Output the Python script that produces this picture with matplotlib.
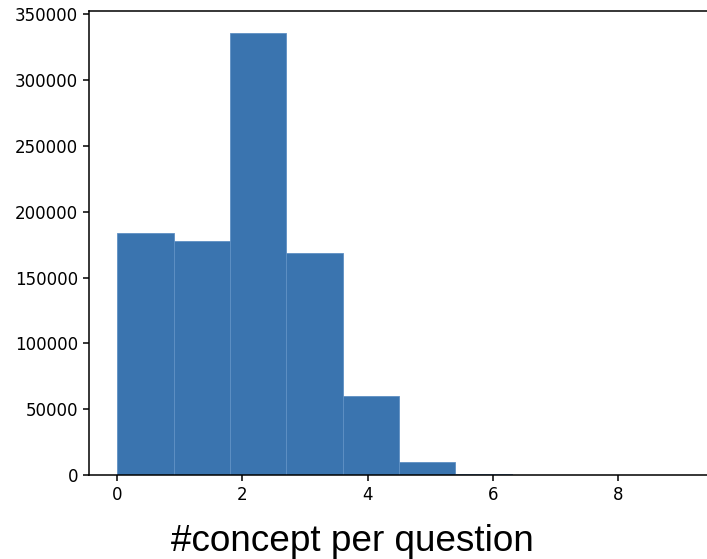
import matplotlib
matplotlib.use("Agg")
import matplotlib.pyplot as plt
import numpy as np

# number of concepts per question, and how many questions have that many
concepts = [0, 1, 2, 3, 4, 5, 6, 7, 8, 9]
counts = [184000, 178000, 335500, 169000, 60000, 10000, 1000, 200, 60, 20]

fig = plt.figure(figsize=(7.07, 5.59), dpi=100)
ax = fig.add_axes([0.1259, 0.150, 0.877, 0.830])

ax.hist(concepts, bins=10, weights=counts, color="#3a74af",
        edgecolor="#5f90c4", linewidth=0.6)

ax.set_xticks([0, 2, 4, 6, 8])
ax.set_yticks(np.arange(0, 350001, 50000))
ax.tick_params(labelsize=12, length=4.5, width=1.1)
for s in ["left", "top", "bottom"]:
    ax.spines[s].set_linewidth(1.1)
ax.spines["right"].set_visible(False)

fig.text(0.4986, 0.0143, "#concept per question", ha="center", va="baseline",
         fontsize=26.6, family="Liberation Sans")

fig.savefig("out.png", dpi=100)
